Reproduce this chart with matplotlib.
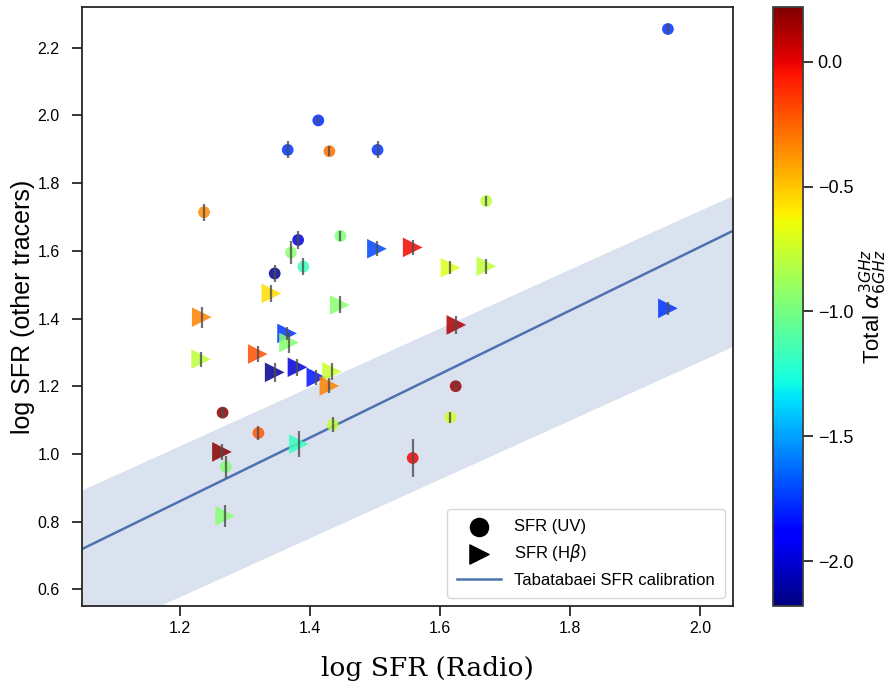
import matplotlib
matplotlib.use('Agg')
import matplotlib.pyplot as plt
import numpy as np

plt.rcParams['font.family'] = ['Liberation Sans', 'DejaVu Sans']
plt.rcParams['mathtext.fontset'] = 'dejavusans'

# SFR(UV) points: radio, other tracer, error, spectral index
uv_x = [1.950, 1.413, 1.366, 1.430, 1.504, 1.671, 1.2375, 1.447, 1.382, 1.371,
        1.390, 1.346, 1.266, 1.321, 1.435, 1.624, 1.616, 1.558, 1.271]
uv_y = [2.255, 1.985, 1.898, 1.894, 1.898, 1.747, 1.714, 1.644, 1.632, 1.595,
        1.553, 1.533, 1.122, 1.062, 1.086, 1.200, 1.108, 0.988, 0.962]
uv_err = [0.016, 0.010, 0.025, 0.015, 0.025, 0.016, 0.025, 0.015, 0.027, 0.034,
          0.025, 0.025, 0.017, 0.022, 0.022, 0.015, 0.016, 0.055, 0.033]
uv_alpha = [-1.75, -1.78, -1.75, -0.28, -1.75, -0.79, -0.35, -0.98, -1.99, -0.95,
            -1.17, -2.13, 0.20, -0.22, -0.79, 0.15, -0.72, -0.02, -0.95]

# SFR(Hbeta) points
hb_x = [1.503, 1.558, 1.616, 1.671, 1.341, 1.446, 1.234, 1.625, 1.950, 1.365,
        1.368, 1.233, 1.320, 1.346, 1.381, 1.410, 1.434, 1.430, 1.383, 1.265, 1.270]
hb_y = [1.606, 1.610, 1.550, 1.554, 1.474, 1.440, 1.404, 1.381, 1.430, 1.356,
        1.329, 1.280, 1.295, 1.241, 1.256, 1.226, 1.243, 1.201, 1.029, 1.006, 0.817]
hb_err = [0.022, 0.022, 0.020, 0.023, 0.026, 0.025, 0.031, 0.026, 0.020, 0.020,
          0.030, 0.022, 0.023, 0.028, 0.025, 0.022, 0.025, 0.022, 0.038, 0.024, 0.033]
hb_alpha = [-1.72, -0.02, -0.69, -0.79, -0.55, -0.95, -0.33, 0.12, -1.75, -1.75,
            -0.95, -0.79, -0.20, -2.13, -1.99, -1.84, -0.76, -0.33, -1.17, 0.20, -0.95]

vmin, vmax = -2.18, 0.22

# Tabatabaei calibration line and band
calib_slope, calib_icpt = 0.94, -0.268
band_slope, band_hi, band_lo = 0.87, -0.0195, -0.4655

fig = plt.figure(figsize=(8.91, 6.92), dpi=100)
ax = fig.add_axes([0.092, 0.1243, 0.7307, 0.8656])
cax = fig.add_axes([0.8676, 0.1243, 0.0337, 0.8656])

xx = np.linspace(1.05, 2.05, 50)
ax.fill_between(xx, band_slope * xx + band_lo, band_slope * xx + band_hi,
                color='#4c72b0', alpha=0.2, lw=0, zorder=1)
ax.plot(xx, calib_slope * xx + calib_icpt, color='#4c72b0', lw=1.8, zorder=2,
        label='Tabatabaei SFR calibration')

sc = ax.scatter(uv_x, uv_y, c=uv_alpha, cmap='jet', vmin=vmin, vmax=vmax,
                marker='o', s=72, alpha=0.85, lw=0, zorder=3)
ax.scatter(hb_x, hb_y, c=hb_alpha, cmap='jet', vmin=vmin, vmax=vmax,
           marker='>', s=200, alpha=0.85, lw=0, zorder=3)
ax.errorbar(uv_x, uv_y, yerr=uv_err, fmt='none', ecolor='0.3', elinewidth=1.6,
            alpha=0.8, zorder=4)
ax.errorbar(hb_x, hb_y, yerr=hb_err, fmt='none', ecolor='0.3', elinewidth=1.6,
            alpha=0.8, zorder=4)

# legend proxies
ax.scatter([], [], marker='o', s=170, color='k', label='SFR (UV)')
ax.scatter([], [], marker='>', s=190, color='k', label=r'SFR (H$\beta$)')
h, l = ax.get_legend_handles_labels()
ax.legend([h[1], h[2], h[0]], [l[1], l[2], l[0]], loc='lower right',
          fontsize=12, frameon=True, borderpad=0.6, handlelength=2.6,
          labelspacing=0.5)

ax.set_xlim(1.05, 2.05)
ax.set_ylim(0.551, 2.32)
ax.set_xticks([1.2, 1.4, 1.6, 1.8, 2.0])
ax.set_yticks([0.6, 0.8, 1.0, 1.2, 1.4, 1.6, 1.8, 2.0, 2.2])
ax.tick_params(labelsize=11.5, length=7, width=1.3, color='0.15')
ax.tick_params(axis='y', pad=9)
for s in ax.spines.values():
    s.set_color('0.15')
    s.set_linewidth(1.3)
ax.set_ylabel('log SFR (other tracers)', fontsize=18, labelpad=2)
ax.set_xlabel('log SFR (Radio)', fontsize=19, family='DejaVu Serif')
ax.xaxis.set_label_coords(0.531, -0.083, transform=ax.transAxes)
ax.xaxis.label.set_va('top')

cb = fig.colorbar(sc, cax=cax)
cb.solids.set_alpha(1)
cb.set_ticks([0.0, -0.5, -1.0, -1.5, -2.0])
cb.ax.tick_params(labelsize=13, length=7, width=1.3, color='0.15')
cb.outline.set_color('0.25')
cb.outline.set_linewidth(1.3)
cb.set_label(r'Total $\alpha^{3GHz}_{6GHz}$', fontsize=16, labelpad=3)

fig.savefig('out.png', dpi=100)
